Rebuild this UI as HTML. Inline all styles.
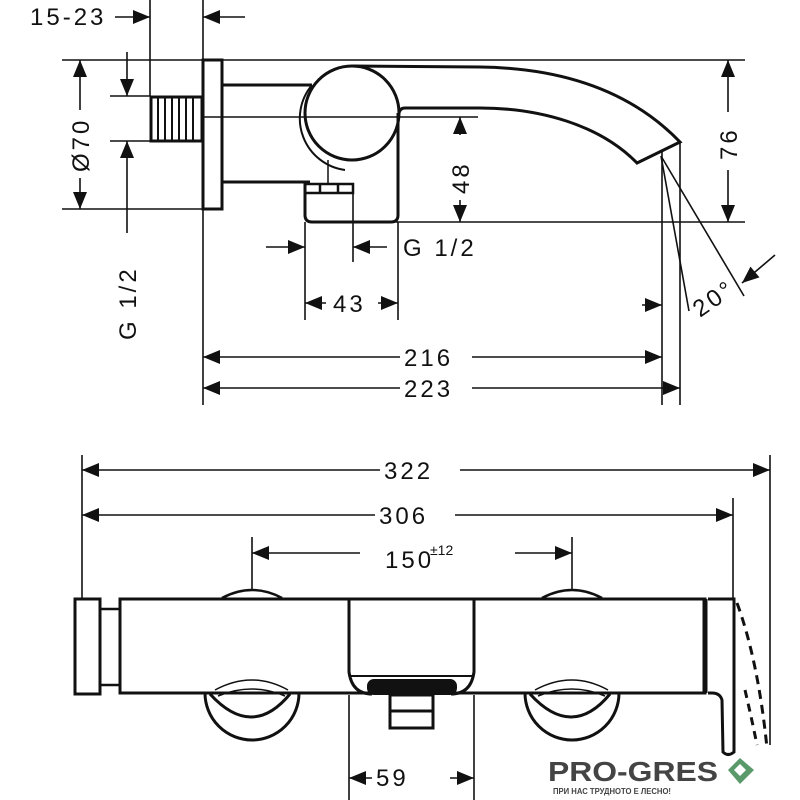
<!DOCTYPE html>
<html><head><meta charset="utf-8"><style>
html,body{margin:0;padding:0;background:#fff;}
svg{display:block;}
text{font-family:"Liberation Sans",sans-serif;fill:#111;}
</style></head><body>
<svg width="800" height="800" viewBox="0 0 800 800" xmlns="http://www.w3.org/2000/svg" xmlns:xlink="http://www.w3.org/1999/xlink">
<defs>
<path id="ah" d="M0 0 L-17 -7 L-17 7 Z" fill="#111"/>
</defs>
<g stroke="#111" fill="none" stroke-width="1.6">
<line x1="62" y1="60" x2="745" y2="60"/>
<line x1="62" y1="209" x2="203" y2="209"/>
<line x1="310" y1="222" x2="745" y2="222"/>
<line x1="203" y1="0" x2="203" y2="405"/>
<line x1="150" y1="0" x2="150" y2="96"/>
<line x1="110" y1="96" x2="150" y2="96"/>
<line x1="110" y1="141" x2="150" y2="141"/>
<line x1="203" y1="117" x2="400" y2="117"/>
<line x1="400" y1="117" x2="478" y2="117"/>
<line x1="662" y1="152" x2="662" y2="405"/>
<line x1="680" y1="142" x2="680" y2="405"/>
<line x1="305" y1="222" x2="305" y2="320"/>
<line x1="398" y1="222" x2="398" y2="320"/>
<line x1="353" y1="190" x2="353" y2="262"/>
<line x1="115" y1="17" x2="150" y2="17"/>
<line x1="245" y1="17" x2="203" y2="17"/>
<line x1="80" y1="110" x2="80" y2="60"/>
<line x1="80" y1="178" x2="80" y2="209"/>
<line x1="127" y1="52" x2="127" y2="96"/>
<line x1="127" y1="233" x2="127" y2="141"/>
<line x1="460" y1="135" x2="460" y2="117"/>
<line x1="460" y1="200" x2="460" y2="222"/>
<line x1="728" y1="112" x2="728" y2="60"/>
<line x1="728" y1="170" x2="728" y2="222"/>
<line x1="266" y1="247" x2="305" y2="247"/>
<line x1="387" y1="247" x2="353" y2="247"/>
<line x1="326" y1="303" x2="305" y2="303"/>
<line x1="378" y1="303" x2="398" y2="303"/>
<line x1="400" y1="357" x2="203" y2="357"/>
<line x1="472" y1="357" x2="662" y2="357"/>
<line x1="400" y1="388" x2="203" y2="388"/>
<line x1="472" y1="388" x2="680" y2="388"/>
<line x1="642" y1="305" x2="662" y2="305"/>
<line x1="775" y1="255" x2="742" y2="283"/>
<line x1="661" y1="156" x2="689" y2="311"/>
<line x1="661" y1="156" x2="744" y2="296"/>
<rect x="203" y="60" width="19" height="149" stroke-width="3"/>
<rect x="151" y="97" width="51" height="44" stroke-width="3"/>
<g stroke-width="2"><line x1="158" y1="97" x2="158" y2="141"/><line x1="165" y1="97" x2="165" y2="141"/><line x1="172" y1="97" x2="172" y2="141"/><line x1="179" y1="97" x2="179" y2="141"/><line x1="186" y1="97" x2="186" y2="141"/><line x1="193" y1="97" x2="193" y2="141"/></g>
<line x1="222" y1="85" x2="312" y2="85" stroke-width="3"/>
<line x1="222" y1="182" x2="310" y2="182" stroke-width="3"/>
<path d="M312 85 A52 52 0 0 0 345 170" stroke-width="2"/>
<circle cx="352" cy="113" r="47" stroke-width="3"/>
<path d="M352 66 L480 67 C560 68 630 90 680 142 L637 163 C600 125 540 108 480 108 L405 108 Q400 108 399 113" stroke-width="3"/>
<path d="M305 182 L305 215 Q305 222 312 222 L391 222 Q398 222 398 215 L398 113" stroke-width="3"/>
<path d="M305 184 L353 184 L353 193 L305 193" stroke-width="2.5"/>
<line x1="320" y1="184" x2="320" y2="193" stroke-width="2.5"/>
<line x1="338" y1="184" x2="338" y2="193" stroke-width="2.5"/>
<line x1="328" y1="160" x2="328" y2="184" stroke-width="1.5"/>

<line x1="82" y1="455" x2="82" y2="600"/>
<line x1="770" y1="455" x2="770" y2="745"/>
<line x1="733" y1="498" x2="733" y2="600"/>
<line x1="252" y1="537" x2="252" y2="590"/>
<line x1="572" y1="537" x2="572" y2="590"/>
<line x1="349" y1="695" x2="349" y2="800"/>
<line x1="474" y1="695" x2="474" y2="800"/>
<line x1="380" y1="470" x2="82" y2="470"/>
<line x1="460" y1="470" x2="770" y2="470"/>
<line x1="375" y1="515" x2="82" y2="515"/>
<line x1="455" y1="515" x2="733" y2="515"/>
<line x1="360" y1="553" x2="252" y2="553"/>
<line x1="515" y1="553" x2="572" y2="553"/>
<line x1="372" y1="778" x2="349" y2="778"/>
<line x1="450" y1="778" x2="474" y2="778"/>
<rect x="75" y="599" width="25" height="95" stroke-width="3"/>
<rect x="100" y="609" width="20" height="76" stroke-width="2.5"/>
<rect x="120" y="599" width="585" height="94" stroke-width="3"/>
<line x1="705" y1="599" x2="705" y2="693" stroke-width="5"/>
<path d="M708 599 L734 599 L734 752 Q728 757 723 752 L722 700 Q720 693 712 693 L708 693" stroke-width="3"/>
<path d="M349 599 L349 672 Q352 694 372 694" stroke-width="3"/>
<path d="M474 599 L474 672 Q471 694 451 694" stroke-width="3"/>
<line x1="349" y1="676" x2="474" y2="676" stroke-width="2"/>
<rect x="367" y="679" width="90" height="16" rx="7" fill="#111" stroke="none"/>
<rect x="390" y="695" width="43" height="33" stroke-width="3"/>
<line x1="390" y1="711" x2="433" y2="711" stroke-width="3"/>
<path d="M222 598 Q252 582 282 598" stroke-width="2.5"/>
<path d="M542 598 Q572 582 602 598" stroke-width="2.5"/>
<path d="M205 693 A47 47 0 0 0 299 693" stroke-width="3"/>
<path d="M525 693 A47 47 0 0 0 619 693" stroke-width="3"/>
<path d="M210 694 Q252 740 290 694" stroke-width="3"/>
<path d="M530 694 Q572 740 610 694" stroke-width="3"/>
<path d="M215 690 Q252 670 288 690" stroke-width="1.5"/>
<path d="M218 696 Q252 682 285 696" stroke-width="1.5"/>
<path d="M535 690 Q572 670 608 690" stroke-width="1.5"/>
<path d="M538 696 Q572 682 605 696" stroke-width="1.5"/>
<path d="M737 603 Q758 660 767 748" stroke-width="3" stroke-dasharray="9 6"/>
<path d="M745 690 Q752 720 757 745" stroke-width="3" stroke-dasharray="8 6"/>
</g>
<use xlink:href="#ah" transform="translate(150,17)"/>
<use xlink:href="#ah" transform="translate(203,17) rotate(180)"/>
<use xlink:href="#ah" transform="translate(80,60) rotate(-90)"/>
<use xlink:href="#ah" transform="translate(80,209) rotate(90)"/>
<use xlink:href="#ah" transform="translate(127,96) rotate(90)"/>
<use xlink:href="#ah" transform="translate(127,141) rotate(-90)"/>
<use xlink:href="#ah" transform="translate(460,117) rotate(-90)"/>
<use xlink:href="#ah" transform="translate(460,222) rotate(90)"/>
<use xlink:href="#ah" transform="translate(728,60) rotate(-90)"/>
<use xlink:href="#ah" transform="translate(728,222) rotate(90)"/>
<use xlink:href="#ah" transform="translate(305,247)"/>
<use xlink:href="#ah" transform="translate(353,247) rotate(180)"/>
<use xlink:href="#ah" transform="translate(305,303) rotate(180)"/>
<use xlink:href="#ah" transform="translate(398,303)"/>
<use xlink:href="#ah" transform="translate(203,357) rotate(180)"/>
<use xlink:href="#ah" transform="translate(662,357)"/>
<use xlink:href="#ah" transform="translate(203,388) rotate(180)"/>
<use xlink:href="#ah" transform="translate(680,388)"/>
<use xlink:href="#ah" transform="translate(662,305)"/>
<use xlink:href="#ah" transform="translate(742,283) rotate(139.7)"/>
<use xlink:href="#ah" transform="translate(82,470) rotate(180)"/>
<use xlink:href="#ah" transform="translate(770,470)"/>
<use xlink:href="#ah" transform="translate(82,515) rotate(180)"/>
<use xlink:href="#ah" transform="translate(733,515)"/>
<use xlink:href="#ah" transform="translate(252,553) rotate(180)"/>
<use xlink:href="#ah" transform="translate(572,553)"/>
<use xlink:href="#ah" transform="translate(349,778) rotate(180)"/>
<use xlink:href="#ah" transform="translate(474,778)"/>
<g font-size="24" letter-spacing="3">
<text x="30" y="25">15-23</text>
<text x="403" y="256">G 1/2</text>
<text x="333" y="312">43</text>
<text x="404" y="366">216</text>
<text x="404" y="397">223</text>
<text x="384" y="479">322</text>
<text x="379" y="524">306</text>
<text x="385" y="568">150</text>
<text x="376" y="786">59</text>
<text transform="translate(89,172) rotate(-90)">Ø70</text>
<text transform="translate(136,340) rotate(-90)">G 1/2</text>
<text transform="translate(469,194) rotate(-90)">48</text>
<text transform="translate(737,160) rotate(-90)">76</text>
<text transform="translate(700,318) rotate(-35)">20°</text>
</g>
<text x="430" y="555" font-size="14">±12</text>
<text x="548" y="781" font-size="28" font-weight="bold" style="fill:#444" textLength="170" lengthAdjust="spacingAndGlyphs">PRO-GRES</text>
<text x="553" y="794" font-size="8" font-weight="bold" style="fill:#444" textLength="118" lengthAdjust="spacingAndGlyphs">ПРИ НАС ТРУДНОТО Е ЛЕСНО!</text>
<path d="M728 770 L740 758 L754 770 L740 784 Z" fill="#5a9a6a"/>
<path d="M734 770 L740 764 L746 770 L740 776 Z" fill="#fff"/>
</svg>
</body></html>
